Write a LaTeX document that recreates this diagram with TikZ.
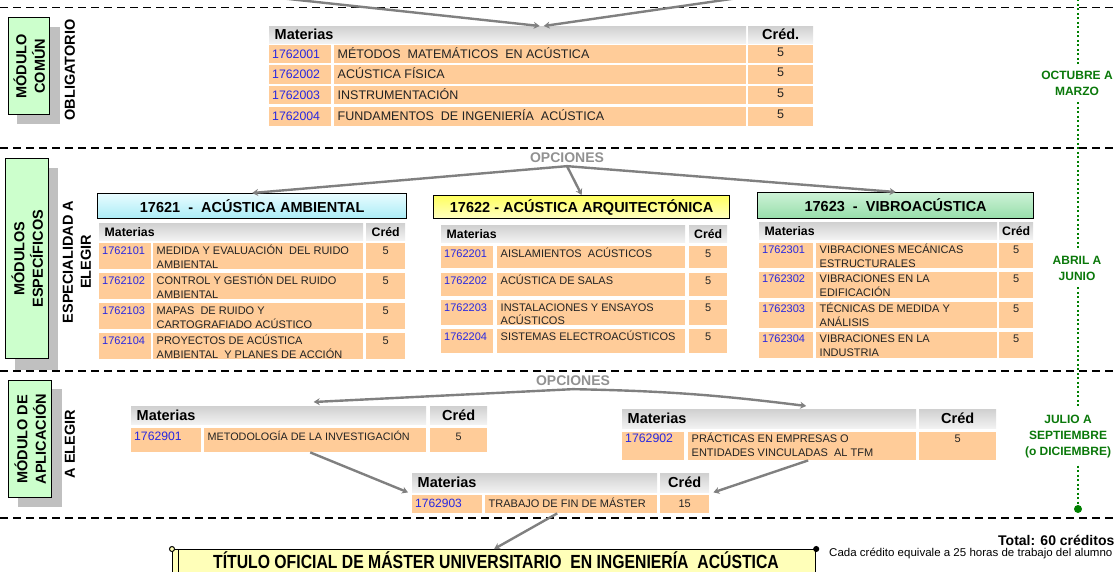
\documentclass[tikz,border=0pt]{standalone}
\usepackage{fontspec}
\setmainfont{Liberation Sans}
\usetikzlibrary{arrows.meta}
\definecolor{cellor}{RGB}{255,204,153}
\definecolor{codeblue}{RGB}{40,40,225}
\definecolor{modgreen}{RGB}{204,255,204}
\definecolor{shadowgray}{RGB}{192,192,192}
\definecolor{arrgray}{RGB}{128,128,128}
\definecolor{optgray}{RGB}{145,145,145}
\definecolor{timegreen}{RGB}{10,120,10}
\definecolor{dotgreen}{RGB}{0,128,0}
\definecolor{txtc}{RGB}{35,35,35}
\definecolor{hdtop}{RGB}{208,208,208}
\definecolor{hdbot}{RGB}{242,242,242}
\definecolor{cyantop}{RGB}{232,252,255}
\definecolor{cyanbot}{RGB}{170,236,246}
\definecolor{yeltop}{RGB}{255,255,95}
\definecolor{yelbot}{RGB}{255,255,195}
\definecolor{grntop}{RGB}{205,242,214}
\definecolor{grnbot}{RGB}{150,222,170}
\definecolor{tityel}{RGB}{255,255,185}

\newcommand\twol[2]{\vtop{\hbox{#1}\hbox{#2}}}
\newcommand\trow[6]{%
  \node[cellbox, minimum width=\cXb-\cXa, minimum height=#3-#2] (#1c) at (\cXa,#2) {};
  \node[cellbox, minimum width=\cXd-\cXc, minimum height=#3-#2] (#1d) at (\cXc,#2) {};
  \node[cellbox, minimum width=\cXf-\cXe, minimum height=#3-#2] (#1k) at (\cXe,#2) {};
  \node[codetext] at (#1c.north west) {#4};
  \node[desctext] at (#1d.north west) {#5};
  \node[credtext] at (#1k.north) {#6};}
\newcommand\thead[4]{%
  \node[headbox, minimum width=\cXd-\cXa, minimum height=#3-#2] (#1m) at (\cXa,#2) {};
  \node[headbox, minimum width=\cXf-\cXe, minimum height=#3-#2] (#1k) at (\cXe,#2) {};
  \node[headtext] at (#1m.west) {Materias};
  \node[headktext] at (#1k.center) {#4};}

\begin{document}
\begin{tikzpicture}[x=1pt,y=-1pt,
  cellbox/.style={fill=cellor, inner sep=0pt, anchor=north west},
  headbox/.style={top color=hdtop, bottom color=hdbot, inner sep=0pt, anchor=north west},
  codetext/.style={anchor=north west, inner sep=0pt, xshift=3pt, text height=\cToff pt, font=\cCodeFont, text=codeblue},
  desctext/.style={anchor=north west, inner sep=0pt, xshift=3.5pt, text height=\cToff pt, font=\cRowFont, text=txtc},
  credtext/.style={anchor=north, inner sep=0pt, text height=\cKoff pt, font=\cRowFont, text=txtc},
  headtext/.style={anchor=west, inner sep=0pt, xshift=5.5pt, font=\cHeadFont},
  headktext/.style={anchor=center, inner sep=0pt, font=\cHeadFont},
  tbox/.style={draw=black, line width=1.3pt, anchor=north west, inner sep=0pt, font=\fontsize{14.5}{16}\selectfont\bfseries},
  modbox/.style={draw=black, line width=1.3pt, fill=modgreen, inner sep=0pt, anchor=north west},
  shadowbox/.style={fill=shadowgray, inner sep=0pt, anchor=north west},
  modtext/.style={rotate=90, align=center, inner sep=0pt, font=\fontsize{14.5}{18.5}\selectfont\bfseries},
  sidetext/.style={rotate=90, align=center, inner sep=0pt, font=\fontsize{14.5}{18}\selectfont\bfseries},
  opt/.style={font=\fontsize{14}{16}\selectfont\bfseries, text=optgray, inner sep=3pt},
  arr/.style={draw=arrgray, line width=2.4pt, -{Stealth[length=6pt,width=7pt]}},
  dashsep/.style={draw=black, line width=1.4pt, dash pattern=on 8pt off 5pt},
  tdot/.style={draw=dotgreen, line width=2pt, dash pattern=on 2pt off 2.5pt},
  tlab/.style={align=center, inner xsep=1pt, inner ysep=7pt, font=\fontsize{12}{16}\selectfont\bfseries, text=timegreen}
]
\useasboundingbox (0,0) rectangle (1115,572);
\clip (0,0) rectangle (1115,572);

% separators
\draw[dashsep] (0,7.5) -- (1115,7.5);
\draw[dashsep] (0,148) -- (1115,148);
\draw[dashsep] (0,371) -- (1115,371);
\draw[dashsep] (0,518) -- (1115,518);

% module boxes
\node[shadowbox, minimum width=43, minimum height=97] (m1s) at (17,27) {};
\node[modbox, minimum width=41, minimum height=97] (m1) at (8,17) {};
\node[modtext] at (m1.center) {MÓDULO\\COMÚN};
\node[sidetext] (ob) at (70,70) {OBLIGATORIO};

\node[shadowbox, minimum width=43, minimum height=202] (m2s) at (15,168) {};
\node[modbox, minimum width=43, minimum height=200] (m2) at (5,158) {};
\node[modtext] at (m2.center) {MÓDULOS\\ESPECÍFICOS};
\node[sidetext] (esp) at (77,262) {ESPECIALIDAD A\\ELEGIR};

\node[shadowbox, minimum width=44, minimum height=118] (m3s) at (18,389) {};
\node[modbox, minimum width=43, minimum height=117] (m3) at (8,380) {};
\node[modtext] at (m3.center) {MÓDULO DE\\APLICACIÓN};
\node[sidetext] (ael) at (70,444) {A ELEGIR};

% common table
\begin{scope}
\def\cXa{269}\def\cXb{331}\def\cXc{334}\def\cXd{746}\def\cXe{748}\def\cXf{813}
\def\cToff{13.5}\def\cKoff{11.5}
\def\cCodeFont{\fontsize{12.3}{14}\selectfont}
\def\cRowFont{\fontsize{12.5}{14}\selectfont}
\def\cHeadFont{\fontsize{14.5}{16}\selectfont\bfseries}
\thead{c0}{26}{43}{Créd.}
\trow{c1}{45}{63}{1762001}{MÉTODOS\ \ MATEMÁTICOS\ \ EN ACÚSTICA}{5}
\trow{c2}{65}{84}{1762002}{ACÚSTICA FÍSICA}{5}
\trow{c3}{86}{104}{1762003}{INSTRUMENTACIÓN}{5}
\trow{c4}{107}{126}{1762004}{FUNDAMENTOS\ \ DE INGENIERÍA\ \ ACÚSTICA}{5}
\end{scope}

% top arrows
\coordinate (tl) at (270,-3);
\coordinate (tr) at (745,-3);
\draw[arr] (tl) -- ([xshift=32pt]c0m.north);
\draw[arr] (tr) -- ([xshift=36pt]c0m.north);

% specialty titles
\node[tbox, top color=cyantop, bottom color=cyanbot, minimum width=309, minimum height=25] (t1) at (97,193) {17621\ \ -\ \ ACÚSTICA AMBIENTAL};
\node[tbox, top color=yeltop, bottom color=yelbot, minimum width=296, minimum height=23] (t2) at (433,195) {17622 - ACÚSTICA ARQUITECTÓNICA};
\node[tbox, top color=grntop, bottom color=grnbot, minimum width=276, minimum height=26] (t3) at (757,192) {17623\ \ -\ \ VIBROACÚSTICA};

\node[opt] (opc1) at (567,158) {OPCIONES};
\draw[arr] (opc1.south) -- (t1.north);
\draw[arr] (opc1.south) -- (t2.north);
\draw[arr] (opc1.south) -- (t3.north);

\begin{scope}
\def\cToff{11.5}\def\cKoff{11.5}
\def\cCodeFont{\fontsize{11}{13}\selectfont}
\def\cRowFont{\fontsize{11}{13.5}\selectfont}
\def\cHeadFont{\fontsize{12.3}{14}\selectfont\bfseries}
\def\cXa{99}\def\cXb{151}\def\cXc{153}\def\cXd{363}\def\cXe{366}\def\cXf{405}
\thead{s1}{223}{240}{Créd}
\trow{s11}{243}{269}{1762101}{\twol{MEDIDA Y EVALUACIÓN\ \ DEL RUIDO}{AMBIENTAL}}{5}
\trow{s12}{273}{299}{1762102}{\twol{CONTROL Y GESTIÓN DEL RUIDO}{AMBIENTAL}}{5}
\trow{s13}{303}{329}{1762103}{\twol{MAPAS\ \ DE RUIDO Y}{CARTOGRAFIADO ACÚSTICO}}{5}
\trow{s14}{333}{359}{1762104}{\twol{PROYECTOS DE ACÚSTICA}{AMBIENTAL\ \ Y PLANES DE ACCIÓN}}{5}
\end{scope}

\begin{scope}
\def\cToff{11}\def\cKoff{11}
\def\cCodeFont{\fontsize{11}{13}\selectfont}
\def\cRowFont{\fontsize{11}{13.5}\selectfont}
\def\cHeadFont{\fontsize{12.3}{14}\selectfont\bfseries}
\def\cXa{441}\def\cXb{493}\def\cXc{497}\def\cXd{685}\def\cXe{689}\def\cXf{727}
\thead{s2}{225}{242}{Créd}
\trow{s21}{246}{268}{1762201}{AISLAMIENTOS\ \ ACÚSTICOS}{5}
\trow{s22}{273}{296}{1762202}{ACÚSTICA DE SALAS}{5}
\trow{s23}{300}{325}{1762203}{\twol{INSTALACIONES Y ENSAYOS}{ACÚSTICOS}}{5}
\trow{s24}{329}{353}{1762204}{SISTEMAS ELECTROACÚSTICOS}{5}
\end{scope}

\begin{scope}
\def\cToff{10.5}\def\cKoff{10.5}
\def\cCodeFont{\fontsize{11}{13}\selectfont}
\def\cRowFont{\fontsize{11}{13.5}\selectfont}
\def\cHeadFont{\fontsize{12.3}{14}\selectfont\bfseries}
\def\cXa{759}\def\cXb{813}\def\cXc{816}\def\cXd{997}\def\cXe{999}\def\cXf{1033}
\thead{s3}{222}{239}{Créd}
\trow{s31}{243}{268}{1762301}{\twol{VIBRACIONES MECÁNICAS}{ESTRUCTURALES}}{5}
\trow{s32}{272}{298}{1762302}{\twol{VIBRACIONES EN LA}{EDIFICACIÓN}}{5}
\trow{s33}{302}{328}{1762303}{\twol{TÉCNICAS DE MEDIDA Y}{ANÁLISIS}}{5}
\trow{s34}{332}{358}{1762304}{\twol{VIBRACIONES EN LA}{INDUSTRIA}}{5}
\end{scope}

% application module
\begin{scope}
\def\cToff{12}\def\cKoff{12}
\def\cCodeFont{\fontsize{12.2}{14}\selectfont}
\def\cRowFont{\fontsize{10.8}{14}\selectfont}
\def\cHeadFont{\fontsize{14.5}{16}\selectfont\bfseries}
\def\cXa{131}\def\cXb{201}\def\cXc{204}\def\cXd{426}\def\cXe{430}\def\cXf{487}
\thead{a1}{406}{424}{Créd}
\trow{a1r}{428}{452}{1762901}{METODOLOGÍA DE LA INVESTIGACIÓN}{5}
\end{scope}

\begin{scope}
\def\cToff{10.5}\def\cKoff{10.5}
\def\cCodeFont{\fontsize{12.3}{14}\selectfont}
\def\cRowFont{\fontsize{11}{14}\selectfont}
\def\cHeadFont{\fontsize{14.5}{16}\selectfont\bfseries}
\def\cXa{622}\def\cXb{684}\def\cXc{688}\def\cXd{916}\def\cXe{919}\def\cXf{996}
\thead{a2}{409}{428}{Créd}
\trow{a2r}{432}{460}{1762902}{\twol{PRÁCTICAS EN EMPRESAS O}{ENTIDADES VINCULADAS\ \ AL TFM}}{5}
\end{scope}

\begin{scope}
\def\cToff{12}\def\cKoff{12}
\def\cCodeFont{\fontsize{12}{14}\selectfont}
\def\cRowFont{\fontsize{11}{14}\selectfont}
\def\cHeadFont{\fontsize{14.5}{16}\selectfont\bfseries}
\def\cXa{412}\def\cXb{482}\def\cXc{485}\def\cXd{657}\def\cXe{660}\def\cXf{709}
\thead{a3}{473}{492}{Créd}
\trow{a3r}{495}{513}{1762903}{TRABAJO DE FIN DE MÁSTER}{15}
\end{scope}

\node[opt] (opc2) at (573,381) {OPCIONES};
\draw[arr] (opc2.south) -- ([xshift=35pt,yshift=4pt]a1m.north);
\draw[arr] (opc2.south) to[bend left=3] ([xshift=37pt,yshift=3pt]a2m.north);
\draw[arr] ([xshift=-5pt]a1rd.south) -- ([xshift=-4pt]a3m.south west);
\draw[arr] ([xshift=6pt]a2rd.south) -- ([xshift=4pt]a3k.south east);

% final title
\node[draw=black, line width=1.2pt, fill=tityel, anchor=north west, minimum width=643, minimum height=30, inner sep=0pt] (tit) at (172,549) {};
\node[anchor=base, inner sep=0pt, font=\fontsize{19}{21}\selectfont\bfseries] (titx) at (496,568.5) {\scalebox{0.83}[1]{TÍTULO OFICIAL DE MÁSTER UNIVERSITARIO\ \ EN INGENIERÍA\ \ ACÚSTICA}};
\draw[line width=1pt] ([xshift=6pt]tit.north west) -- ([xshift=6pt]tit.south west);
\draw[line width=1pt, fill=tityel] (tit.north west) circle (2.5pt);
\draw[line width=1pt, fill=black] (tit.north east) circle (2.5pt);
\draw[arr] ([xshift=-14pt]a3rd.south) -- (tit.north);

% totals
\node[anchor=base west, inner sep=0pt, font=\fontsize{14}{16}\selectfont\bfseries] (tot) at (998,545) {Total: 60 créditos};
\node[anchor=base west, inner sep=0pt, font=\fontsize{11.3}{13}\selectfont] (note) at (829,556) {\scalebox{1.02}[1]{Cada crédito equivale a 25 horas de trabajo del alumno}};

% timeline
\node[tlab] (tm1) at (1077,83) {OCTUBRE A\\MARZO};
\node[tlab] (tm2) at (1077,268) {ABRIL A\\JUNIO};
\node[tlab] (tm3) at (1068,437) {JULIO A\\SEPTIEMBRE\\(o DICIEMBRE)};
\node[circle, fill=dotgreen, inner sep=0pt, minimum size=8pt] (tend) at (1078,509) {};
\coordinate (ttop) at (1078,-5);
\draw[tdot] (ttop) -- (ttop |- tm1.north);
\draw[tdot] (ttop |- tm1.south) -- (ttop |- tm2.north);
\draw[tdot] (ttop |- tm2.south) -- (ttop |- tm3.north);
\draw[tdot] (ttop |- tm3.south) -- (tend.north);
\end{tikzpicture}
\end{document}
